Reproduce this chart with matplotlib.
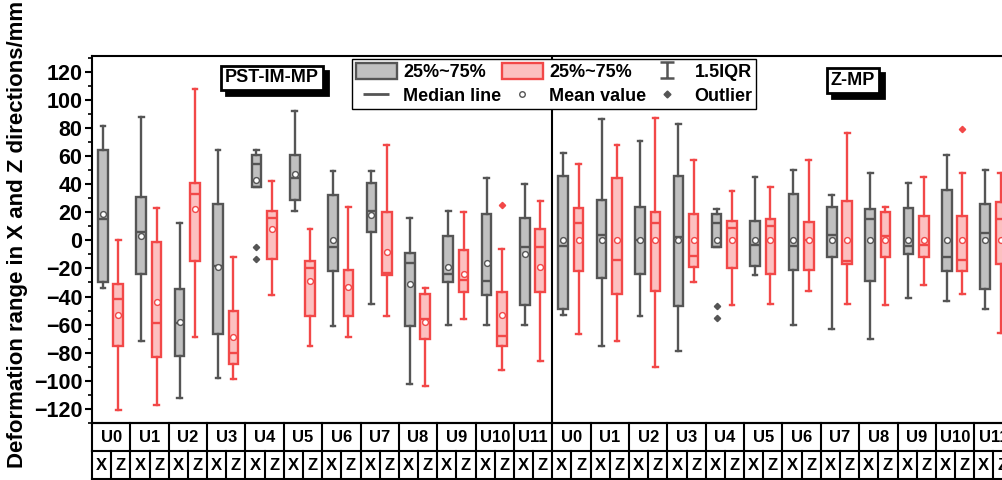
import matplotlib
matplotlib.use("Agg")
import matplotlib.pyplot as plt
from matplotlib.patches import Patch
from matplotlib.lines import Line2D
from matplotlib.path import Path
from matplotlib.ticker import MultipleLocator

plt.rcParams['font.family'] = ['Liberation Sans', 'DejaVu Sans']
plt.rcParams['font.weight'] = 'bold'

units = ["U0", "U1", "U2", "U3", "U4", "U5", "U6", "U7", "U8", "U9", "U10", "U11"]
panels = ["PST-IM-MP", "Z-MP"]
directions = ["X", "Z"]

# ---- PST-IM-MP, X direction ----
p1x_lo  = [-34, -72, -112, -98, 38, 21, -61, -45, -102, -60, -60, -60]
p1x_q1  = [-30, -24, -82, -67, 38, 29, -22, 6, -61, -30, -39, -46]
p1x_med = [15, 6, -59, -18, 54, 44, -5, 21, -16, -24, -29, -5]
p1x_q3  = [64, 31, -35, 26, 61, 61, 32, 41, -9, 3, 19, 16]
p1x_hi  = [81, 88, 12, 64, 64, 92, 49, 49, 16, 21, 44, 40]
p1x_mean = [19, 3, -58, -19, 43, 47, 0, 18, -31, -19, -16, -10]
p1x_out = [[], [], [], [], [-5, -13], [], [], [], [], [], [], []]

# ---- PST-IM-MP, Z direction ----
p1z_lo  = [-121, -117, -69, -99, -39, -75, -69, -54, -104, -56, -92, -86]
p1z_q1  = [-75, -83, -15, -88, -13, -54, -54, -25, -70, -37, -75, -37]
p1z_med = [-42, -59, 33, -80, 16, -20, -33, -23, -56, -28, -68, -5]
p1z_q3  = [-31, -1, 41, -50, 21, -15, -21, 20, -38, -7, -37, 8]
p1z_hi  = [0, 23, 108, -12, 42, 8, 24, 68, -34, 20, -6, 28]
p1z_mean = [-53, -44, 22, -69, 8, -29, -33, -8, -58, -24, -53, -19]
p1z_out = [[], [], [], [], [], [], [], [], [], [], [25], []]

# ---- Z-MP, X direction ----
p2x_lo  = [-53, -75, -54, -79, -5, -25, -60, -63, -70, -41, -43, -49]
p2x_q1  = [-49, -27, -24, -47, -5, -18, -21, -12, -29, -10, -22, -35]
p2x_med = [-4, 4, 0, 2, 12, -3, -4, 4, 15, -4, -12, 5]
p2x_q3  = [46, 29, 24, 46, 19, 14, 33, 24, 22, 23, 36, 26]
p2x_hi  = [62, 86, 71, 83, 22, 45, 50, 32, 48, 41, 61, 50]
p2x_mean = [0, 0, 0, 0, 0, 0, 0, 0, 0, 0, 0, 0]
p2x_out = [[], [], [], [], [-47, -55], [], [], [], [], [], [], []]

# ---- Z-MP, Z direction ----
p2z_lo  = [-67, -72, -90, -30, -46, -45, -36, -45, -46, -32, -38, -66]
p2z_q1  = [-22, -38, -36, -19, -20, -24, -21, -17, -12, -12, -22, -17]
p2z_med = [12, -14, 12, -11, 9, 10, 0, -15, 3, -3, -14, 15]
p2z_q3  = [23, 44, 20, 19, 14, 15, 13, 28, 20, 17, 17, 27]
p2z_hi  = [54, 68, 87, 57, 35, 38, 57, 76, 24, 45, 48, 48]
p2z_mean = [0, 0, 0, 0, 0, 0, 0, 0, 0, 0, 0, 0]
p2z_out = [[], [], [], [], [], [], [], [], [], [], [79], []]

yticks = [-120, -100, -80, -60, -40, -20, 0, 20, 40, 60, 80, 100, 120]
ylabel = "Deformation range in X and Z directions/mm"
legend_labels = ["25%~75%", "Median line", "25%~75%", "Mean value", "1.5IQR", "Outlier"]

GRAY_E, GRAY_F = "#555555", "#c0c0c0"
RED_E, RED_F = "#f24848", "#fcc0c0"

W, H = 1003, 480
fig = plt.figure(figsize=(W / 100, H / 100), dpi=100)

ax_left, ax_right = 92, 92 + 48 * 19.18
ax_top, ax_bot = 56.2, 423
ax = fig.add_axes([ax_left / W, 1 - ax_bot / H, (ax_right - ax_left) / W, (ax_bot - ax_top) / H])


def stats(lo, q1, med, q3, hi, mean, out):
    return [dict(whislo=a, q1=b, med=c, q3=d, whishi=e, mean=f, fliers=g)
            for a, b, c, d, e, f, g in zip(lo, q1, med, q3, hi, mean, out)]


groups = [
    (0, stats(p1x_lo, p1x_q1, p1x_med, p1x_q3, p1x_hi, p1x_mean, p1x_out), 0.07, GRAY_E, GRAY_F),
    (0, stats(p1z_lo, p1z_q1, p1z_med, p1z_q3, p1z_hi, p1z_mean, p1z_out), 0.87, RED_E, RED_F),
    (1, stats(p2x_lo, p2x_q1, p2x_med, p2x_q3, p2x_hi, p2x_mean, p2x_out), 0.07, GRAY_E, GRAY_F),
    (1, stats(p2z_lo, p2z_q1, p2z_med, p2z_q3, p2z_hi, p2z_mean, p2z_out), 0.87, RED_E, RED_F),
]

LW = 1.7
for pidx, st, off, ec, fc in groups:
    pos = [pidx * 24 + 2 * i + off for i in range(len(units))]
    ax.bxp(st, positions=pos, widths=0.5, patch_artist=True, showmeans=True,
           showfliers=True, manage_ticks=False,
           boxprops=dict(facecolor=fc, edgecolor=ec, linewidth=LW),
           medianprops=dict(color=ec, linewidth=LW),
           whiskerprops=dict(color=ec, linewidth=LW),
           capprops=dict(color=ec, linewidth=LW),
           capwidths=0.25,
           meanprops=dict(marker='o', markerfacecolor='white', markeredgecolor=ec,
                          markersize=4.2, markeredgewidth=1.0),
           flierprops=dict(marker='D', markerfacecolor=ec, markeredgecolor=ec,
                           markersize=3.2, linestyle='none'))

ax.set_xlim(-0.5, 47.5)
ax.set_ylim(-130, 131)
ax.axvline(23.5, color='black', lw=1.5)
ax.set_yticks(yticks)
ax.yaxis.set_minor_locator(MultipleLocator(10))
ax.tick_params(axis='y', which='major', direction='out', length=5, width=1.5,
               labelsize=15.5, pad=2)
ax.tick_params(axis='y', which='minor', direction='out', length=3, width=1.2)
ax.tick_params(axis='x', which='both', bottom=False, labelbottom=False)
for lab in ax.get_yticklabels():
    lab.set_fontweight('bold')
for s in ['left', 'top', 'bottom']:
    ax.spines[s].set_linewidth(1.5)
ax.spines['right'].set_visible(False)

# ---- category table below ----
tab = fig.add_axes([ax_left / W, 1 - 479 / H, (ax_right - ax_left) / W, 56 / H])
tab.set_xlim(-0.5, 47.5)
tab.set_ylim(0, 2)
tab.axis('off')
lkw = dict(color='black', lw=1.5, clip_on=False, solid_capstyle='projecting')
for yy in [0, 1, 2]:
    tab.plot([-0.5, 47.5], [yy, yy], **lkw)
for k in range(49):
    tab.plot([k - 0.5, k - 0.5], [0, 1], **lkw)
for k in range(25):
    tab.plot([2 * k - 0.5, 2 * k - 0.5], [1, 2], **lkw)
for p in range(len(panels)):
    for i, u in enumerate(units):
        tab.text(p * 24 + 2 * i + 0.5, 1.5, u, ha='center', va='center',
                 fontsize=12, fontweight='bold', clip_on=False)
        for j, d in enumerate(directions):
            tab.text(p * 24 + 2 * i + j, 0.5, d, ha='center', va='center',
                     fontsize=12, fontweight='bold', clip_on=False)

# ---- panel title boxes with shadow ----
def shadow_box(xc, yc, txt):
    dx, dy = 5 / W, 5 / H
    fig.text(xc + dx, yc - dy, txt, ha='center', va='center', fontsize=13,
             fontweight='bold', color='black',
             bbox=dict(boxstyle='square,pad=0.2', fc='black', ec='black', lw=2))
    fig.text(xc, yc, txt, ha='center', va='center', fontsize=13,
             fontweight='bold', color='black',
             bbox=dict(boxstyle='square,pad=0.2', fc='white', ec='black', lw=2))

shadow_box(272 / W, 1 - 78 / H, panels[0])
shadow_box(853 / W, 1 - 80.5 / H, panels[1])

# ---- legend ----
iqr_path = Path([(-0.8, 1), (0.8, 1), (0, 1), (0, -1), (-0.8, -1), (0.8, -1)],
                [Path.MOVETO, Path.LINETO, Path.MOVETO, Path.LINETO, Path.MOVETO, Path.LINETO])
handles = [
    Patch(facecolor=GRAY_F, edgecolor=GRAY_E, linewidth=LW),
    Line2D([], [], marker='_', markersize=19, markeredgewidth=2, color=GRAY_E, linestyle='None'),
    Patch(facecolor=RED_F, edgecolor=RED_E, linewidth=LW),
    Line2D([], [], marker='o', markersize=4, markerfacecolor='white', markeredgecolor=GRAY_E,
           markeredgewidth=1, linestyle='None'),
    Line2D([], [], marker=iqr_path, markersize=12, markeredgewidth=1.8, color=GRAY_E,
           fillstyle='none', linestyle='None'),
    Line2D([], [], marker='D', markersize=3.5, color=GRAY_E, linestyle='None'),
]
leg = fig.legend(handles, legend_labels, ncol=3, loc='upper left',
                 bbox_to_anchor=(352 / W, 1 - 59 / H), bbox_transform=fig.transFigure,
                 borderaxespad=0, frameon=True, fancybox=False, framealpha=1,
                 edgecolor='black', prop=dict(weight='bold', size=13),
                 handlelength=2.3, handleheight=1.0, handletextpad=0.35,
                 columnspacing=0.0, labelspacing=0.35, borderpad=0.2)
leg.get_frame().set_linewidth(1.0)

fig.text(18 / W, 1 - 468 / H, ylabel, rotation=90, ha='center', va='bottom',
         fontsize=16, fontweight='bold')

fig.savefig("out.png", dpi=100)
